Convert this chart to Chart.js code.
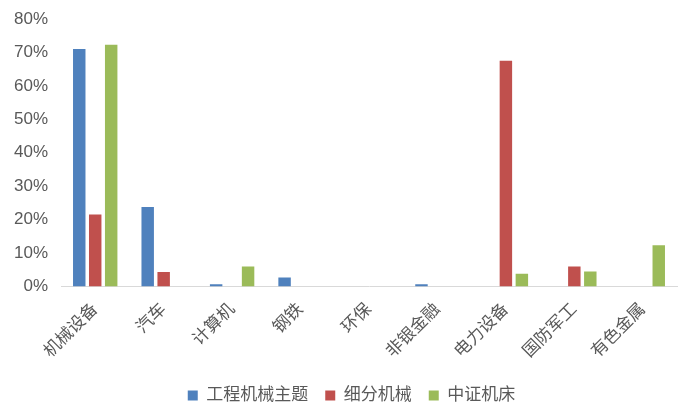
<!DOCTYPE html>
<html>
<head>
<meta charset="utf-8">
<script src="https://cdn.jsdelivr.net/npm/chart.js@4/dist/chart.umd.min.js"></script>
<style>
  html, body { margin: 0; padding: 0; background: #ffffff; }
  #wrap { width: 700px; height: 420px; }
</style>
</head>
<body>
<div id="wrap"><canvas id="chart_industry"></canvas></div>
<script>
const categories = ['机械设备', '汽车', '计算机', '钢铁', '环保', '非银金融', '电力设备', '国防军工', '有色金属'];
const dataEngineering = [71.0, 23.8, 0.7, 2.7, 0, 0.7, 0, 0, 0];
const dataSubMachinery = [21.5, 4.3, 0, 0, 0, 0, 67.5, 6.0, 0];
const dataMachineTool = [72.3, 0, 6.0, 0, 0, 0, 3.8, 4.5, 12.3];

const fontFamily = '"Liberation Sans", Arial, "Noto Sans CJK SC", sans-serif';

// nudge the centred legend a little to the right, as in the original
const legendShift = {
    id: 'legendShift',
    afterLayout: function(chart) {
        chart.legend.left += 13;
        chart.legend.right += 13;
    }
};

let ctxIndustry = document.getElementById('chart_industry').getContext('2d');
let chartIndustry = new Chart(ctxIndustry, {
    type: 'bar',
    data: {
        labels: categories,
        datasets: [{
            label: '工程机械主题',
            data: dataEngineering,
            backgroundColor: '#4F81BD'
        }, {
            label: '细分机械',
            data: dataSubMachinery,
            backgroundColor: '#C0504D'
        }, {
            label: '中证机床',
            data: dataMachineTool,
            backgroundColor: '#9BBB59'
        }]
    },
    plugins: [legendShift],
    options: {
        responsive: true,
        maintainAspectRatio: false,
        animation: false,
        layout: { padding: { left: 0, right: 23, top: 19, bottom: 6 } },
        datasets: {
            bar: { categoryPercentage: 0.7, barPercentage: 0.78 }
        },
        plugins: {
            legend: {
                position: 'bottom',
                labels: {
                    boxWidth: 10,
                    boxHeight: 10,
                    padding: 17,
                    color: '#595959',
                    font: { family: fontFamily, size: 17 }
                }
            },
            tooltip: { enabled: false }
        },
        scales: {
            x: {
                grid: { display: false },
                border: { color: '#D9D9D9', width: 1 },
                ticks: {
                    color: '#595959',
                    maxRotation: 45,
                    minRotation: 45,
                    padding: 5,
                    font: { family: fontFamily, size: 17 }
                },
                afterFit: function(scale) {
                    scale.height = scale.height + 3;
                }
            },
            y: {
                min: 0,
                max: 80,
                grid: { display: false },
                border: { display: false },
                ticks: {
                    stepSize: 10,
                    color: '#595959',
                    padding: 5,
                    font: { family: fontFamily, size: 17 },
                    callback: function(val) {
                        return val + '%';
                    }
                },
                afterFit: function(scale) {
                    scale.width = 61;
                }
            }
        }
    }
    });
</script>
</body>
</html>
